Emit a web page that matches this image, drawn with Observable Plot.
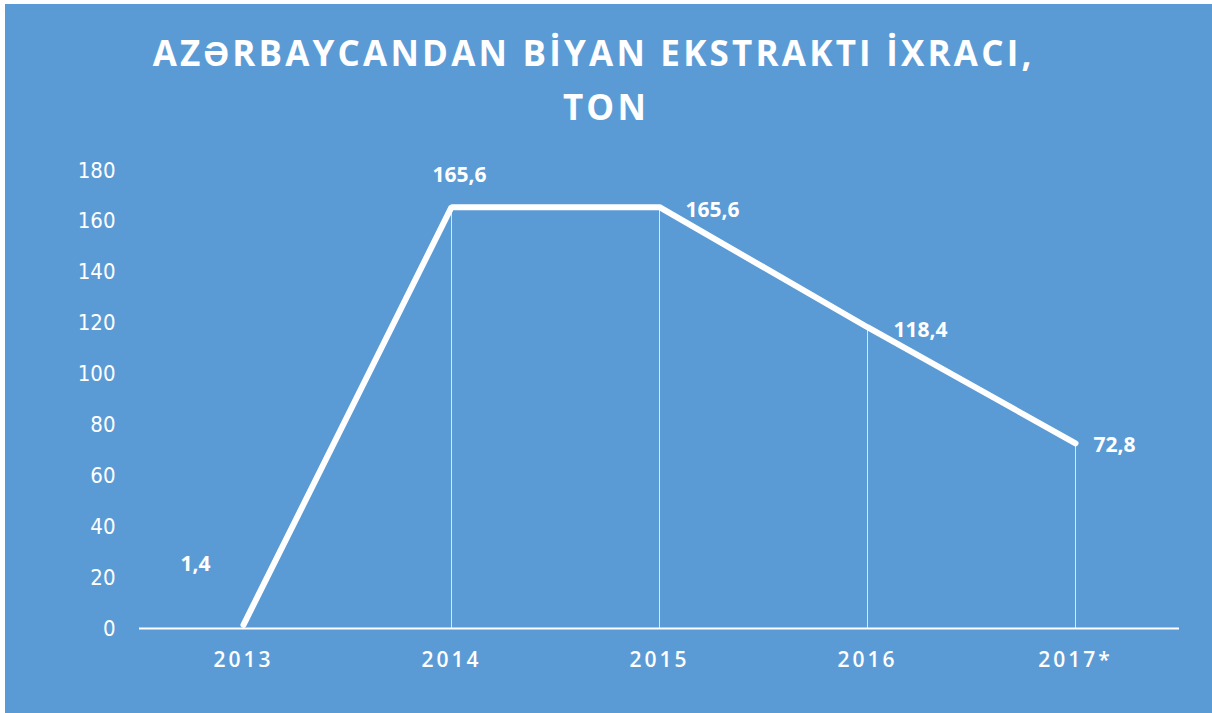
<!DOCTYPE html>
<html>
<head>
<meta charset="utf-8">
<script src="https://cdn.jsdelivr.net/npm/d3@7"></script>
<script src="https://cdn.jsdelivr.net/npm/@observablehq/plot@0.6"></script>
<style>
  html, body { margin: 0; padding: 0; background: #ffffff; width: 1212px; height: 713px; overflow: hidden; }
  #bg { position: absolute; left: 5px; top: 4px; width: 1207px; height: 709px; background: #5b9bd5; }
  #title { position: absolute; left: 0; top: 26px; width: 1212px; text-align: center;
           font-family: "Open Sans", sans-serif; font-weight: 700; font-size: 35px; line-height: 54px;
           letter-spacing: 3.2px; color: #ffffff; }
  #chart { position: absolute; left: 0; top: 140px; }
  #chart g[aria-label="x-axis tick label"] text { letter-spacing: 3px; font-weight: 600; }
</style>
</head>
<body>
<div id="bg"></div>
<div id="title">AZƏRBAYCANDAN BİYAN EKSTRAKTI İXRACI,&nbsp;&nbsp;<br>TON</div>
<div id="chart"></div>
<script>
const years = ["2013", "2014", "2015", "2016", "2017*"];
const values = [1.4, 165.6, 165.6, 118.4, 72.8];
const valueLabels = ["1,4", "165,6", "165,6", "118,4", "72,8"];
const yTicks = [0, 20, 40, 60, 80, 100, 120, 140, 160, 180];

const data = years.map((year, i) => ({year, value: values[i], label: valueLabels[i], i}));

const labelFont = "'Open Sans', sans-serif";

const chart = Plot.plot({
  width: 1212,
  height: 573,
  marginTop: 30,
  marginBottom: 85,
  marginLeft: 139,
  marginRight: 33,
  style: {background: "transparent", color: "#ffffff", overflow: "visible"},
  x: {type: "point", domain: years, padding: 0.5},
  y: {domain: [0, 180]},
  marks: [
    Plot.axisY({ticks: yTicks, tickSize: 0, tickPadding: 24, fontSize: 22,
                fontFamily: "'DejaVu Sans Condensed', 'DejaVu Sans', sans-serif", label: null}),
    Plot.axisX({tickSize: 0, tickPadding: 24, fontSize: 21, fontFamily: labelFont, label: null}),
    Plot.ruleX(data, {x: "year", y1: 0, y2: "value", stroke: "#ffffff", strokeWidth: 1, strokeOpacity: 0.75}),
    Plot.ruleY([0], {stroke: "#ffffff", strokeWidth: 2}),
    Plot.line(data, {x: "year", y: "value", stroke: "#ffffff", strokeWidth: 6,
                     strokeLinecap: "round", strokeLinejoin: "miter"}),
    Plot.text(data.filter(d => d.i === 0), {x: "year", y: "value", text: "label", dx: -48, dy: -61,
              fill: "#ffffff", fontSize: 21, fontWeight: "bold", fontFamily: labelFont}),
    Plot.text(data.filter(d => d.i === 1), {x: "year", y: "value", text: "label", dx: 8, dy: -32,
              fill: "#ffffff", fontSize: 21, fontWeight: "bold", fontFamily: labelFont}),
    Plot.text(data.filter(d => d.i === 2 || d.i === 3), {x: "year", y: "value", text: "label", dx: 26, dy: 3,
              textAnchor: "start", fill: "#ffffff", fontSize: 21, fontWeight: "bold", fontFamily: labelFont}),
    Plot.text(data.filter(d => d.i === 4), {x: "year", y: "value", text: "label", dx: 18, dy: 2,
              textAnchor: "start", fill: "#ffffff", fontSize: 21, fontWeight: "bold", fontFamily: labelFont})
  ]
});
document.getElementById("chart").appendChild(chart);
</script>
</body>
</html>
